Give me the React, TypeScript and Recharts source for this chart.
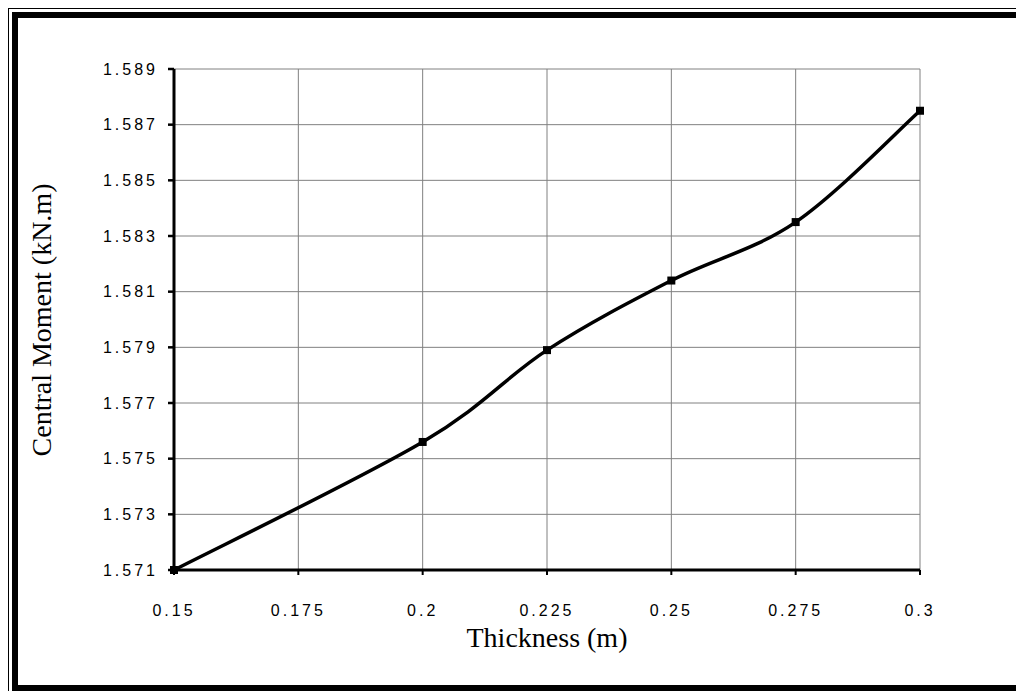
import { CartesianGrid, Label, Line, LineChart, XAxis, YAxis } from "recharts";

const thickness = [0.15, 0.2, 0.225, 0.25, 0.275, 0.3];
const centralMoment = [1.571, 1.5756, 1.5789, 1.5814, 1.5835, 1.5875];
const xTicks = [0.15, 0.175, 0.2, 0.225, 0.25, 0.275, 0.3];
const yTicks = [1.571, 1.573, 1.575, 1.577, 1.579, 1.581, 1.583, 1.585, 1.587, 1.589];

const chartData = thickness.map((t, i) => ({ t, m: centralMoment[i] }));

const tickFont = {
  fontFamily: "'Liberation Sans', Arial, sans-serif",
  fontSize: 16,
  letterSpacing: 3,
  fill: "#000",
};

const titleFont = "'Liberation Serif', 'Times New Roman', serif";

// spreadsheet-style smoothed line (Catmull-Rom as cubic beziers)
const smoothCurve = (context: any) => {
  let pts: number[][] = [];
  return {
    areaStart() {},
    areaEnd() {},
    lineStart() {
      pts = [];
    },
    point(x: number, y: number) {
      pts.push([+x, +y]);
    },
    lineEnd() {
      const n = pts.length;
      if (!n) return;
      context.moveTo(pts[0][0], pts[0][1]);
      for (let i = 0; i < n - 1; i++) {
        const p0 = pts[Math.max(i - 1, 0)];
        const p1 = pts[i];
        const p2 = pts[i + 1];
        const p3 = pts[Math.min(i + 2, n - 1)];
        context.bezierCurveTo(
          p1[0] + (p2[0] - p0[0]) / 6,
          p1[1] + (p2[1] - p0[1]) / 6,
          p2[0] - (p3[0] - p1[0]) / 6,
          p2[1] - (p3[1] - p1[1]) / 6,
          p2[0],
          p2[1]
        );
      }
    },
  };
};

const SquareDot = (props: any) => {
  const { cx, cy } = props;
  if (cx == null || cy == null) return null;
  return <rect x={cx - 4} y={cy - 4} width={8} height={8} fill="#000" />;
};

export default function App() {
  return (
    <div style={{ position: "absolute", left: 0, top: 0, width: 1016, height: 691, background: "#fff", overflow: "hidden" }}>
      {/* double frame around the chart */}
      <div style={{ position: "absolute", left: 8, top: 8, width: 1040, height: 700, border: "1px solid #000", boxSizing: "border-box" }} />
      <div style={{ position: "absolute", left: 12, top: 12, width: 1040, height: 679, border: "6px solid #000", boxSizing: "border-box" }} />
      <div style={{ position: "absolute", left: 0, top: 0 }}>
        <LineChart width={1016} height={691} data={chartData} margin={{ top: 69, right: 96, bottom: 51, left: 20 }}>
          <CartesianGrid stroke="#808080" strokeWidth={1} />
          <XAxis
            dataKey="t"
            type="number"
            domain={[0.15, 0.3]}
            ticks={xTicks}
            interval={0}
            height={70}
            axisLine={{ stroke: "#000", strokeWidth: 3 }}
            tickLine={{ stroke: "#000", strokeWidth: 2 }}
            tickSize={5}
            tickMargin={30}
            tick={tickFont}
          >
            <Label
              content={() => (
                <text x={547} y={647} textAnchor="middle" fontFamily={titleFont} fontSize={28} fill="#000">
                  Thickness (m)
                </text>
              )}
            />
          </XAxis>
          <XAxis xAxisId="top" orientation="top" dataKey="t" type="number" domain={[0.15, 0.3]} height={0} tick={false} tickLine={false} axisLine={{ stroke: "#000", strokeWidth: 2.5 }} />
          <YAxis
            type="number"
            domain={[1.571, 1.589]}
            ticks={yTicks}
            interval={0}
            width={154}
            axisLine={{ stroke: "#000", strokeWidth: 3 }}
            tickLine={{ stroke: "#000", strokeWidth: 2.5 }}
            tickSize={6}
            tickMargin={10}
            tickFormatter={(v: number) => v.toFixed(3)}
            tick={tickFont}
          >
            <Label
              content={() => (
                <text x={51} y={320} textAnchor="middle" transform="rotate(-90 51 320)" fontFamily={titleFont} fontSize={28} fill="#000">
                  Central Moment (kN.m)
                </text>
              )}
            />
          </YAxis>
          <YAxis yAxisId="right" orientation="right" type="number" domain={[1.571, 1.589]} width={0} tick={false} tickLine={false} axisLine={{ stroke: "#000", strokeWidth: 3 }} />
          <Line
            type={smoothCurve as any}
            dataKey="m"
            stroke="#000"
            strokeWidth={3.5}
            dot={<SquareDot />}
            activeDot={false}
            isAnimationActive={false}
          />
        </LineChart>
      </div>
    </div>
  );
}
